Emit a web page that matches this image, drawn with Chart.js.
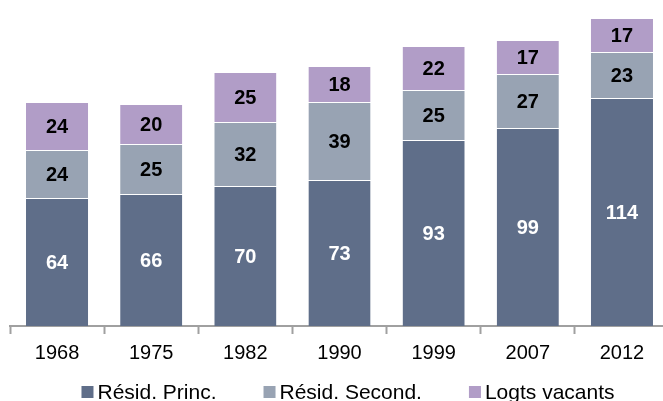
<!DOCTYPE html>
<html lang="fr">
<head>
    <meta charset="UTF-8">
    <title>Logements par catégorie</title>
    <script src="https://cdn.jsdelivr.net/npm/chart.js"></script>
    <style>
        html, body { margin: 0; padding: 0; background: #fff; overflow: hidden; }
        #wrap { width: 680px; height: 401px; }
    </style>
</head>
<body>
    <div id="wrap"><canvas id="logChart" width="680" height="401"></canvas></div>
    <script>
        var years = ['1968', '1975', '1982', '1990', '1999', '2007', '2012'];
        var princ = [64, 66, 70, 73, 93, 99, 114];
        var second = [24, 25, 32, 39, 25, 27, 23];
        var vacants = [24, 20, 25, 18, 22, 17, 17];

        var FONT = '"Liberation Sans", Arial, sans-serif';

        // value written in the middle of each segment
        var segmentLabels = {
            id: 'segmentLabels',
            afterDatasetsDraw: function(chart) {
                var ctx = chart.ctx;
                ctx.save();
                ctx.font = 'bold 20px ' + FONT;
                ctx.textAlign = 'center';
                ctx.textBaseline = 'middle';
                chart.data.datasets.forEach(function(ds, i) {
                    chart.getDatasetMeta(i).data.forEach(function(bar, j) {
                        var mid = (bar.y + bar.base) / 2;
                        ctx.fillStyle = i === 0 ? '#ffffff' : '#000000';
                        ctx.fillText(ds.data[j], bar.x, mid + 1);
                    });
                });
                ctx.restore();
            }
        };

        // legend drawn by hand under the axis: small square, short gap, label
        var bottomLegend = {
            id: 'bottomLegend',
            afterDraw: function(chart) {
                var ctx = chart.ctx;
                var box = 12, gap = 4, spacing = 47, y = 392, centre = 348;
                ctx.save();
                ctx.font = '21px ' + FONT;
                ctx.textBaseline = 'middle';
                var items = chart.data.datasets.map(function(ds) {
                    return { text: ds.label, color: ds.backgroundColor, w: ctx.measureText(ds.label).width };
                });
                var total = 0;
                items.forEach(function(it, k) {
                    total += box + gap + it.w + (k < items.length - 1 ? spacing : 0);
                });
                var x = centre - total / 2;
                items.forEach(function(it) {
                    ctx.fillStyle = it.color;
                    ctx.fillRect(x, y - 6, box, box);
                    ctx.fillStyle = '#000';
                    ctx.fillText(it.text, x + box + gap, y + 1);
                    x += box + gap + it.w + spacing;
                });
                ctx.restore();
            }
        };

        var ctx = document.getElementById('logChart').getContext('2d');
        new Chart(ctx, {
            type: 'bar',
            data: {
                labels: years,
                datasets: [{
                    label: 'Résid. Princ.',
                    data: princ,
                    backgroundColor: '#5f6e89'
                }, {
                    label: 'Résid. Second.',
                    data: second,
                    backgroundColor: '#98a3b3'
                }, {
                    label: 'Logts vacants',
                    data: vacants,
                    backgroundColor: '#b19dc7'
                }]
            },
            options: {
                responsive: false,
                animation: false,
                layout: { padding: { left: 10, right: 11, top: 6, bottom: 29 } },
                datasets: {
                    bar: {
                        barPercentage: 0.66,
                        categoryPercentage: 1,
                        borderColor: 'rgba(255,255,255,0.6)',
                        borderWidth: { top: 1 },
                        borderSkipped: false
                    }
                },
                scales: {
                    x: {
                        stacked: true,
                        grid: {
                            drawOnChartArea: false,
                            tickLength: 8,
                            tickColor: '#a0a0a0',
                            tickWidth: 2
                        },
                        border: { color: '#a0a0a0', width: 2 },
                        ticks: {
                            color: '#000',
                            padding: 7,
                            font: { family: FONT, size: 20 }
                        }
                    },
                    y: {
                        stacked: true,
                        display: false,
                        min: 0,
                        max: 160
                    }
                },
                plugins: {
                    tooltip: { enabled: false },
                    legend: { display: false }
                }
            },
            plugins: [segmentLabels, bottomLegend]
        });
    </script>
</body>
</html>
